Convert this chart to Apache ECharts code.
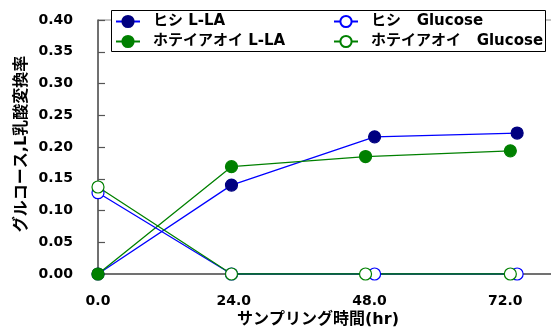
<!DOCTYPE html>
<html>
<head>
<meta charset="utf-8">
<script src="https://cdn.jsdelivr.net/npm/echarts@6/dist/echarts.min.js"></script>
<style>
  html, body { margin: 0; padding: 0; background: #fff; }
  #chart { width: 551px; height: 329px; }
</style>
</head>
<body>
<div id="chart"></div>
<script>
// Sampling times (hr) for each cultivar
const hishiTimes = [0, 23.6, 48.9, 74.1];
const hoteiTimes = [0, 23.6, 47.3, 72.9];

// Conversion rates
const hishiLLA = [0, 0.14, 0.216, 0.222];
const hoteiLLA = [0, 0.169, 0.185, 0.194];
const hishiGlucose = [0.128, 0, 0, 0];
const hoteiGlucose = [0.137, 0, 0, 0];

const seriesNames = ['ヒシ L-LA', 'ホテイアオイ L-LA', 'ヒシ   Glucose', 'ホテイアオイ   Glucose'];
const xTickInterval = 24;
const yTickInterval = 0.05;

const pairs = (xs, ys) => xs.map((x, i) => [x, ys[i]]);

const jpFont = '"DejaVu Sans", "Noto Sans CJK JP", sans-serif';

const chart = echarts.init(document.getElementById('chart'), null, { renderer: 'canvas' });

function lineSeries(name, data, lineColor, fill, border) {
  return {
    name: name,
    type: 'line',
    data: data,
    symbol: 'circle',
    symbolSize: 12,
    showSymbol: true,
    lineStyle: { color: lineColor, width: 1.3 },
    itemStyle: { color: fill, borderColor: border, borderWidth: 1.2 },
    emphasis: { disabled: true },
    animation: false
  };
}

const legendText = {
  fontFamily: jpFont,
  fontWeight: 'bold',
  fontSize: 15,
  color: '#000',
  padding: [0, 0, 0, 8]
};

chart.setOption({
  backgroundColor: '#fff',
  animation: false,
  grid: {
    left: 98,
    top: 20,
    bottom: 55,
    right: -90,
    outerBoundsMode: 'none',
    containLabel: false,
    show: true,
    borderColor: '#8a8a8a',
    borderWidth: 1
  },
  xAxis: {
    type: 'value',
    min: 0,
    max: 96,
    interval: xTickInterval,
    splitLine: { show: false },
    axisTick: { show: false },
    axisLine: { show: true, onZero: false, lineStyle: { color: '#555', width: 1.5 } },
    axisLabel: {
      margin: 20,
      showMaxLabel: false,
      fontFamily: jpFont,
      fontWeight: 'bold',
      fontSize: 14,
      color: '#000',
      formatter: v => v.toFixed(1)
    }
  },
  yAxis: {
    type: 'value',
    min: 0,
    max: 0.4,
    interval: yTickInterval,
    splitLine: { show: false },
    axisTick: { show: true, inside: true, length: 7, lineStyle: { color: '#555', width: 1.2 } },
    axisLine: { show: true, lineStyle: { color: '#555', width: 1.5 } },
    axisLabel: {
      margin: 25,
      fontFamily: jpFont,
      fontWeight: 'bold',
      fontSize: 14,
      color: '#000',
      formatter: v => v.toFixed(2)
    }
  },
  legend: [
    {
      left: 115,
      top: 14,
      orient: 'vertical',
      padding: 0,
      itemGap: 5,
      itemWidth: 24,
      itemHeight: 14,
      z: 6,
      textStyle: legendText,
      data: [seriesNames[0], seriesNames[1]]
    },
    {
      left: 333,
      top: 14,
      orient: 'vertical',
      padding: 0,
      itemGap: 5,
      itemWidth: 24,
      itemHeight: 14,
      z: 6,
      textStyle: legendText,
      data: [seriesNames[2], seriesNames[3]]
    }
  ],
  graphic: [
    {
      type: 'rect',
      z: 5,
      shape: { x: 111.5, y: 10.5, width: 434, height: 41 },
      style: { fill: '#fff', stroke: '#000', lineWidth: 1 }
    },
    {
      type: 'text',
      z: 5,
      x: 318,
      y: 320,
      style: {
        text: 'サンプリング時間(hr)',
        fontFamily: jpFont,
        fontWeight: 'bold',
        fontSize: 16,
        fill: '#000',
        align: 'center',
        verticalAlign: 'middle'
      }
    },
    {
      type: 'text',
      z: 5,
      x: 22,
      y: 144,
      rotation: Math.PI / 2,
      style: {
        text: 'グルコース,L乳酸変換率',
        fontFamily: jpFont,
        fontWeight: 'bold',
        fontSize: 16,
        fill: '#000',
        align: 'center',
        verticalAlign: 'middle'
      }
    }
  ],
  series: [
    lineSeries(seriesNames[0], pairs(hishiTimes, hishiLLA), '#0000ff', '#000080', '#000080'),
    lineSeries(seriesNames[1], pairs(hoteiTimes, hoteiLLA), '#008000', '#008000', '#008000'),
    lineSeries(seriesNames[2], pairs(hishiTimes, hishiGlucose), '#0000ff', '#ffffff', '#0000ff'),
    lineSeries(seriesNames[3], pairs(hoteiTimes, hoteiGlucose), '#008000', '#ffffff', '#008000')
  ]
});
</script>
</body>
</html>
